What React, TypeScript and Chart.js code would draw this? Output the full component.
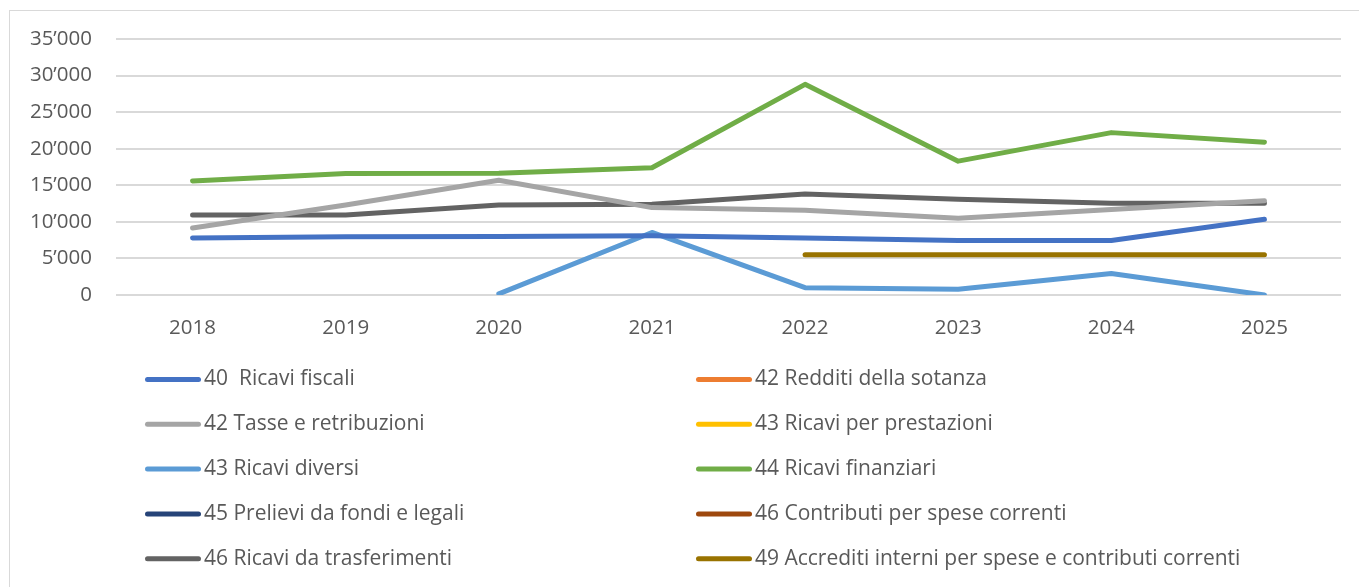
import React, { useEffect, useRef } from "react";
import { Chart, registerables } from "chart.js";

Chart.register(...registerables);

const years = ["2018", "2019", "2020", "2021", "2022", "2023", "2024", "2025"];

const seriesLabels = [
  "40  Ricavi fiscali",
  "42 Redditi della sotanza",
  "42 Tasse e retribuzioni",
  "43 Ricavi per prestazioni",
  "43 Ricavi diversi",
  "44 Ricavi finanziari",
  "45 Prelievi da fondi e legali",
  "46 Contributi per spese correnti",
  "46 Ricavi da trasferimenti",
  "49 Accrediti interni per spese e contributi correnti",
];

const ricaviFiscali = [7800, 7950, 8000, 8100, 7800, 7450, 7450, 10350];
const redditiSostanza = [null, null, null, null, null, null, null, null];
const tasseRetribuzioni = [9150, 12300, 15700, 11950, 11600, 10500, 11700, 12900];
const ricaviPrestazioni = [null, null, null, null, null, null, null, null];
const ricaviDiversi = [null, null, 150, 8550, 1000, 800, 2950, 0];
const ricaviFinanziari = [15600, 16600, 16650, 17400, 28800, 18300, 22200, 20900];
const prelieviFondi = [null, null, null, null, null, null, null, null];
const contributiSpese = [null, null, null, null, null, null, null, null];
const ricaviTrasferimenti = [10950, 10950, 12300, 12400, 13800, 13100, 12550, 12550];
const accreditiInterni = [null, null, null, null, 5500, 5500, 5500, 5500];

const seriesValues = [
  ricaviFiscali,
  redditiSostanza,
  tasseRetribuzioni,
  ricaviPrestazioni,
  ricaviDiversi,
  ricaviFinanziari,
  prelieviFondi,
  contributiSpese,
  ricaviTrasferimenti,
  accreditiInterni,
];

const seriesColors = [
  "#4472C4",
  "#ED7D31",
  "#A5A5A5",
  "#FFC000",
  "#5B9BD5",
  "#70AD47",
  "#264478",
  "#9E480E",
  "#636363",
  "#997300",
];

const yTicks = [0, 5000, 10000, 15000, 20000, 25000, 30000, 35000];

const FONT = "'Open Sans', sans-serif";
const TEXT = "#595959";

function fmt(v: number): string {
  if (v === 0) return "0";
  const s = String(Math.round(v));
  return s.replace(/\B(?=(\d{3})+(?!\d))/g, "\u2019");
}

const frameAndLegend = {
  id: "frameAndLegend",
  beforeDraw(chart: any) {
    const ctx = chart.ctx;
    ctx.save();
    ctx.fillStyle = "#ffffff";
    ctx.fillRect(0, 0, chart.width, chart.height);
    ctx.strokeStyle = "#d9d9d9";
    ctx.lineWidth = 1;
    ctx.strokeRect(9.5, 10.5, chart.width + 20, chart.height + 20);
    ctx.restore();
  },
  afterDraw(chart: any) {
    const ctx = chart.ctx;
    ctx.save();
    const colX = [145, 696];
    const rowY0 = 379.5;
    const rowStep = 44.8;
    ctx.font = `21px ${FONT}`;
    ctx.textBaseline = "middle";
    ctx.textAlign = "left";
    chart.data.datasets.forEach((ds: any, i: number) => {
      const col = i % 2;
      const row = Math.floor(i / 2);
      const x = colX[col];
      const y = rowY0 + row * rowStep;
      ctx.strokeStyle = ds.borderColor;
      ctx.lineWidth = 5;
      ctx.lineCap = "round";
      ctx.beginPath();
      ctx.moveTo(x + 2.5, y);
      ctx.lineTo(x + 53.5, y);
      ctx.stroke();
      ctx.fillStyle = TEXT;
      ctx.fillText(ds.label, x + 59, y);
    });
    ctx.restore();
  },
};

export default function App() {
  const ref = useRef<HTMLCanvasElement | null>(null);

  useEffect(() => {
    if (!ref.current) return;
    const chart = new Chart(ref.current, {
      type: "line",
      data: {
        labels: years,
        datasets: seriesLabels.map((label, i) => ({
          label,
          data: seriesValues[i] as any,
          borderColor: seriesColors[i],
          backgroundColor: seriesColors[i],
          borderWidth: 5,
          borderCapStyle: "round" as const,
          borderJoinStyle: "round" as const,
          pointRadius: 0,
          pointHoverRadius: 0,
          tension: 0,
          spanGaps: false,
          fill: false,
        })),
      },
      options: {
        responsive: false,
        animation: false,
        layout: { padding: { top: 39, right: 18, left: 0, bottom: 0 } },
        plugins: {
          legend: { display: false },
          tooltip: { enabled: false },
          title: { display: false },
        },
        scales: {
          x: {
            offset: true,
            grid: { display: false, drawTicks: false },
            border: { display: false },
            ticks: {
              color: TEXT,
              font: { family: FONT, size: 20.5 },
              padding: 21,
            },
            afterFit(scale: any) {
              scale.height = 292;
            },
          },
          y: {
            min: 0,
            max: 35000,
            afterBuildTicks(scale: any) {
              scale.ticks = yTicks.map((v) => ({ value: v }));
            },
            grid: { color: "#d9d9d9", lineWidth: 2, drawTicks: false },
            border: { display: false },
            ticks: {
              color: TEXT,
              font: { family: FONT, size: 20.5 },
              padding: 24,
              callback: (v: any) => fmt(Number(v)),
            },
            afterFit(scale: any) {
              scale.width = 116;
            },
          },
        },
      },
      plugins: [frameAndLegend],
    });
    return () => chart.destroy();
  }, []);

  return (
    <div style={{ position: "absolute", left: 0, top: 0, width: 1359, height: 587 }}>
      <canvas ref={ref} width={1359} height={587} style={{ width: 1359, height: 587, display: "block" }} />
    </div>
  );
}
